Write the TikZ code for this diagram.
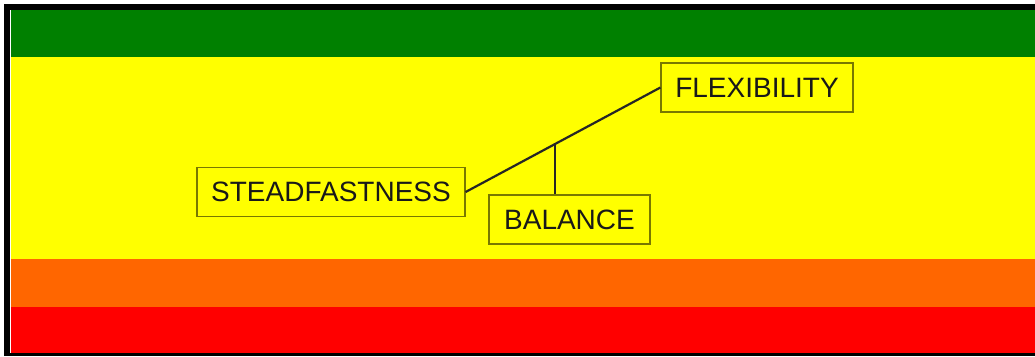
\documentclass[tikz,border=0pt]{standalone}
\usepackage{fontspec}
\setmainfont{Liberation Sans}
\usepackage{xcolor}
\usepackage{tikz}
\usetikzlibrary{positioning}
\definecolor{cgreen}{RGB}{0,128,0}
\definecolor{cyellow}{RGB}{255,255,0}
\definecolor{corange}{RGB}{255,102,0}
\definecolor{cred}{RGB}{255,0,0}
\definecolor{cedge}{RGB}{120,120,0}

\begin{document}
\begin{tikzpicture}[
  x=1pt,y=-1pt,
  font=\fontsize{28}{30}\selectfont,
  lbl/.style={rectangle,draw=cedge,line width=1.2pt,fill=cyellow,text=black!90,minimum height=49pt,inner sep=0pt},
  lnk/.style={line width=2.2pt,black!85},
]
% --- frame and colour bands ---
\useasboundingbox (0,0) rectangle (1035,356);
\fill[white] (0,0) rectangle (1035,356);
\fill[black] (4,4) rectangle (1035,356);
\fill[white] (10,10) rectangle (11,353);
\fill[cgreen] (11,10) rectangle (1035,57);
\fill[cyellow] (11,57) rectangle (1035,259);
\fill[corange] (11,259) rectangle (1035,307);
\fill[cred] (11,307) rectangle (1035,353);
% --- labels ---
\node[lbl,minimum width=268pt] (stead) at (331,192) {STEADFASTNESS};
\node[lbl,minimum width=192pt] (flex) at (757,87.5) {FLEXIBILITY};
\node[lbl,minimum width=161pt] (bal) at (569.5,219.5) {BALANCE};
% --- beam and pivot ---
\draw[lnk] (stead.east) -- (flex.west) coordinate[pos=0.46] (piv);
\draw[lnk] (piv) -- (piv |- bal.north);
\end{tikzpicture}
\end{document}
